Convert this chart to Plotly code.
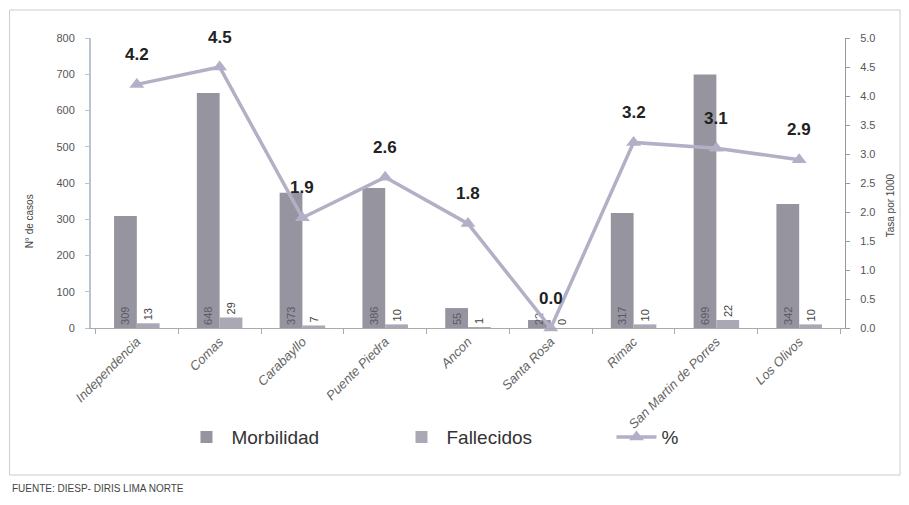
import plotly.graph_objects as go

categorias = ["Independencia", "Comas", "Carabayllo", "Puente Piedra", "Ancon",
              "Santa Rosa", "Rimac", "San Martin de Porres", "Los Olivos"]
morbilidad = [309, 648, 373, 386, 55, 22, 317, 699, 342]
fallecidos = [13, 29, 7, 10, 1, 0, 10, 22, 10]
tasa = [4.2, 4.5, 1.9, 2.6, 1.8, 0.0, 3.2, 3.1, 2.9]

fig = go.Figure()
fig.add_trace(go.Bar(
    x=categorias, y=morbilidad, name="Morbilidad",
    marker=dict(color="#96949f", line=dict(width=0)),
    text=[str(v) for v in morbilidad], textposition="inside",
    insidetextanchor="start", textangle=-90, constraintext="none",
    textfont=dict(size=11, color="#5a5a66", family="Liberation Sans"),
))
fig.add_trace(go.Bar(
    x=categorias, y=fallecidos, name="Fallecidos",
    marker=dict(color="#aba8b6", line=dict(width=0)),
    text=[str(v) for v in fallecidos], textposition="outside",
    textangle=-90, constraintext="none", cliponaxis=False,
    textfont=dict(size=11, color="#444", family="Liberation Sans"),
))
fig.add_trace(go.Scatter(
    x=categorias, y=tasa, name="%", yaxis="y2", mode="lines+markers",
    line=dict(color="#b2b0c6", width=3.5),
    marker=dict(symbol="triangle-up", size=13, color="#b2b0c6"),
    cliponaxis=False,
))

for c, v in zip(categorias, tasa):
    fig.add_annotation(x=c, y=v, xref="x", yref="y2", text=f"<b>{v:.1f}</b>",
                       showarrow=False, yshift=30,
                       font=dict(size=17, color="#222", family="Liberation Sans"))

fig.update_layout(
    width=893, height=489,
    margin=dict(l=83, r=56, t=30, b=169, autoexpand=False),
    paper_bgcolor="white", plot_bgcolor="white",
    barmode="group", bargap=0.45, bargroupgap=0,
    font=dict(family="Liberation Sans", color="#555"),
    showlegend=True,
    legend=dict(orientation="h", x=0.12, y=-0.376, xanchor="left", yanchor="middle",
                font=dict(size=19, color="#333"), itemwidth=40,
                entrywidth=160, entrywidthmode="pixels",
                bgcolor="rgba(0,0,0,0)",
                traceorder="normal"),
    xaxis=dict(
        tickangle=-45, tickfont=dict(size=13, color="#666", style="italic"),
        showline=True, linecolor="#aaaaaa", linewidth=1, automargin=False,
        ticks="outside", tickson="boundaries", ticklen=5, tickcolor="#aaaaaa",
        showgrid=False,
    ),
    yaxis=dict(
        range=[0, 800], dtick=100, showgrid=False, automargin=False,
        showline=True, linecolor="#b8c4d4", linewidth=2,
        ticks="outside", ticklen=4, tickcolor="#b8c4d4", ticklabelstandoff=8,
        tickfont=dict(size=11, color="#555"),
    ),
    yaxis2=dict(
        range=[0, 5], dtick=0.5, tickformat=".1f", overlaying="y", side="right",
        showgrid=False, showline=True, linecolor="#999", linewidth=1, automargin=False,
        ticks="outside", ticklen=4, tickcolor="#999", ticklabelstandoff=8,
        tickfont=dict(size=11, color="#555"),
    ),
)

fig.add_annotation(xref="paper", yref="paper", x=-0.0915, y=0.366,
                   text="N° de casos", textangle=-90, showarrow=False,
                   font=dict(size=10, color="#444"))
fig.add_annotation(xref="paper", yref="paper", x=1.07, y=0.424,
                   text="Tasa por 1000", textangle=-90, showarrow=False,
                   font=dict(size=10, color="#444"))
fig.add_annotation(xref="paper", yref="paper", x=-0.108, y=-0.555,
                   xanchor="left", yanchor="middle",
                   text="FUENTE: DIESP- DIRIS LIMA NORTE", showarrow=False,
                   font=dict(size=10, color="#444"))
fig.add_shape(type="rect", xref="paper", yref="paper",
              x0=-0.108, x1=1.073, y0=-0.507, y1=1.0966,
              line=dict(color="#cccccc", width=1))

fig.write_html("out.html")
